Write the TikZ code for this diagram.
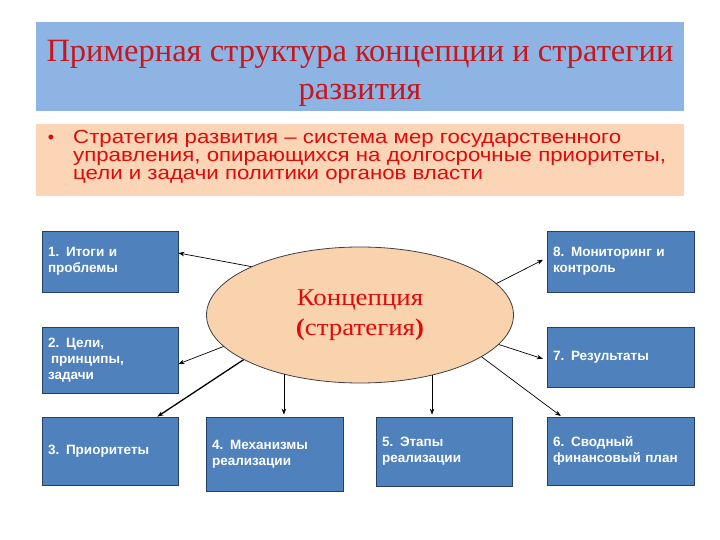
\documentclass[tikz,border=0pt]{standalone}
\usepackage{fontspec}
\setmainfont{Liberation Serif}
\newfontfamily\arialf{Liberation Sans}
\newfontfamily\bulletfont[FakeStretch=1.17]{Liberation Sans}
\newfontfamily\ellfont[FakeStretch=1.12]{Liberation Serif}
\usetikzlibrary{arrows.meta,shapes.geometric}
\definecolor{titlebg}{HTML}{8EB4E3}
\definecolor{peach}{HTML}{FBD5B5}
\definecolor{ellfill}{HTML}{F9D2AE}
\definecolor{titlered}{HTML}{C8161E}
\definecolor{txtred}{HTML}{E00A0A}
\definecolor{boxblue}{HTML}{4F81BD}
\definecolor{boxline}{HTML}{24406A}
\tikzset{
  bluebox/.style={draw=boxline, line width=0.8pt, fill=boxblue, text=white,
    font=\arialf\bfseries\fontsize{13.5}{16}\selectfont, align=left,
    inner xsep=6pt, inner ysep=0pt},
  arr/.style={-{Stealth[length=6pt,width=4.5pt]}, line width=0.7pt, black},
}
\begin{document}
\begin{tikzpicture}[x=1pt,y=-1pt]
\useasboundingbox (0,0) rectangle (720,540);
\fill[white] (0,0) rectangle (720,540);
% title
\node[fill=titlebg, minimum width=648pt, minimum height=89pt, inner sep=0pt] (title) at (360,66.5) {};
\node[text=titlered, font=\fontsize{32.5}{38}\selectfont, align=center, inner sep=0pt] (titletext) at (360,73)
  {Примерная структура концепции и стратегии\\развития};
% bullet box
\node[fill=peach, minimum width=648pt, minimum height=72pt, inner sep=0pt] (bbox) at (360,160) {};
\node[anchor=base, text=txtred, font=\arialf\fontsize{18}{18}\selectfont, inner sep=0pt] (bul) at (51,144) {•};
\node[anchor=north west, text=txtred, font=\bulletfont\fontsize{19}{18}\selectfont, align=left, inner sep=0pt] (btext) at (73,130)
  {Стратегия развития – система мер государственного\\управления, опирающихся на долгосрочные приоритеты,\\цели и задачи политики органов власти};
% ellipse
\node[ellipse, draw=black!75, line width=0.8pt, fill=ellfill, minimum width=307pt, minimum height=136pt,
  inner sep=0pt, text=txtred, font=\ellfont\fontsize{24}{30}\selectfont, align=center] (e) at (360,315)
  {Концепция\\{\bfseries(}стратегия{\bfseries)}};
% boxes
\node[bluebox, text width=124pt, minimum height=61pt] (b1) at (110,261.5) {1. Итоги и\\проблемы};
\node[bluebox, text width=124pt, minimum height=66pt] (b2) at (110,360) {2. Цели,\\\hspace*{3pt}принципы,\\задачи};
\node[bluebox, text width=124pt, minimum height=68pt] (b3) at (110,451) {3. Приоритеты};
\node[bluebox, text width=125pt, minimum height=74pt] (b4) at (274.5,454) {4. Механизмы\\реализации};
\node[bluebox, text width=124pt, minimum height=69pt] (b5) at (444,451.5) {5. Этапы\\реализации};
\node[bluebox, text width=135pt, minimum height=61pt] (b8) at (620.5,261.5) {8. Мониторинг и\\контроль};
\node[bluebox, text width=135pt, minimum height=60pt] (b7) at (620.5,357) {7. Результаты};
\node[bluebox, text width=135pt, minimum height=68pt] (b6) at (620.5,451) {6. Сводный\\финансовый план};
% arrows
\draw[arr] (e.156.6) -- ([yshift=8.5pt]b1.east);
\draw[arr] (e.193.9) -- ([yshift=-4pt]b2.east);
\draw[arr, line width=1.3pt] (e.201.7) -- ([xshift=-21pt]b3.north east);
\draw[arr, shorten >=2pt] (e.218.9) -- (e.218.9 |- b4.north);
\draw[arr, shorten >=2pt] (e.320.7) -- (e.320.7 |- b5.north);
\draw[arr, shorten >=1pt] (e.341.8) -- ([xshift=15pt]b6.north west);
\draw[arr, shorten >=4pt] (e.348.8) -- ([yshift=-3pt]b7.west);
\draw[arr, shorten >=4pt] (e.13.5) -- ([yshift=3.5pt]b8.west);
\end{tikzpicture}
\end{document}
